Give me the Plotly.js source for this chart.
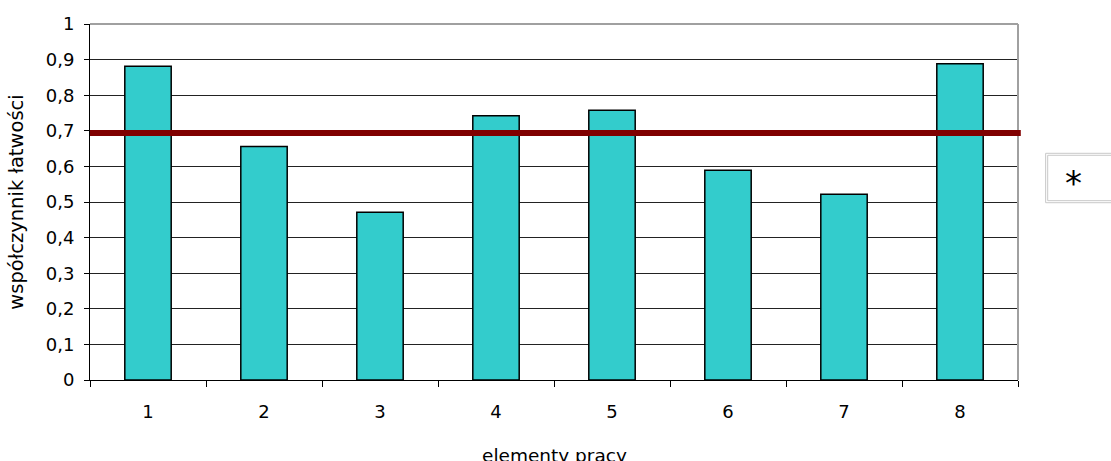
<!DOCTYPE html>
<html>
<head>
<meta charset="utf-8">
<script src="https://cdn.plot.ly/plotly-3.0.1.min.js"></script>
<style>html,body{margin:0;padding:0;background:#fff;}#chart{width:1111px;height:461px;}</style>
</head>
<body>
<div id="chart"></div>
<script>
const categories = ['1','2','3','4','5','6','7','8'];
const values = [0.881, 0.656, 0.471, 0.742, 0.758, 0.589, 0.522, 0.888];
const threshold = 0.694;
const yTickVals = [0, 0.1, 0.2, 0.3, 0.4, 0.5, 0.6, 0.7, 0.8, 0.9, 1];
const yTickText = ['0', '0,1', '0,2', '0,3', '0,4', '0,5', '0,6', '0,7', '0,8', '0,9', '1'];
const xTitle = 'elementy pracy';
const yTitle = 'współczynnik łatwości';
const legendText = '*';

const FONT = 'DejaVu Sans, Liberation Sans, Arial, sans-serif';

const traces = [{
  type: 'bar',
  x: categories,
  y: values,
  marker: {color: '#33CCCC', line: {color: '#000000', width: 1.5}},
  hoverinfo: 'skip',
  showlegend: false
}];

const layout = {
  width: 1111, height: 461,
  margin: {l: 90, r: 93, t: 24, b: 81},
  paper_bgcolor: '#ffffff', plot_bgcolor: '#ffffff',
  font: {family: FONT, color: '#000000', size: 18},
  bargap: 0.6,
  showlegend: false,
  xaxis: {
    type: 'category',
    tickson: 'boundaries',
    ticks: 'outside', ticklen: 6, tickcolor: '#000', tickwidth: 1,
    showline: true, linecolor: '#000', linewidth: 1,
    showgrid: false, zeroline: false,
    tickfont: {family: FONT, size: 18},
    ticklabelstandoff: 15,
    automargin: false
  },
  yaxis: {
    range: [0, 1],
    tickvals: yTickVals, ticktext: yTickText,
    ticks: 'outside', ticklen: 5, tickcolor: '#000', tickwidth: 1,
    showline: true, linecolor: '#000', linewidth: 1,
    showgrid: true, gridcolor: '#222222', gridwidth: 1,
    zeroline: false,
    tickfont: {family: FONT, size: 18},
    ticklabelstandoff: 6,
    title: {text: yTitle, font: {family: FONT, size: 19.5}, standoff: 16},
    automargin: false
  },
  shapes: [
    {type: 'line', xref: 'paper', yref: 'paper', x0: 0, x1: 1, y0: 1, y1: 1, line: {color: '#a0a0a0', width: 2}},
    {type: 'line', xref: 'paper', yref: 'paper', x0: 1, x1: 1, y0: 0, y1: 1, line: {color: '#a0a0a0', width: 2}},
    {type: 'line', xref: 'paper', yref: 'y', x0: 0, x1: 1.003, y0: threshold, y1: threshold, line: {color: '#800000', width: 6}},
    {type: 'rect', xref: 'paper', yref: 'paper', x0: 1.0298, x1: 1.11, y0: 0.498, y1: 0.6368, line: {color: '#c8c8c8', width: 1}},
    {type: 'rect', xref: 'paper', yref: 'paper', x0: 1.032, x1: 1.11, y0: 0.5037, y1: 0.6312, line: {color: '#c8c8c8', width: 1}}
  ],
  annotations: [
    {xref: 'paper', yref: 'paper', x: 1.0603, y: 0.552, text: legendText, showarrow: false,
     font: {family: FONT, size: 34, color: '#000'}, xanchor: 'center', yanchor: 'middle'},
    {xref: 'paper', yref: 'paper', x: 0.5, y: -0.176, text: xTitle, showarrow: false,
     font: {family: FONT, size: 18.5, color: '#000'}, xanchor: 'center', yanchor: 'top'}
  ]
};

Plotly.newPlot('chart', traces, layout, {displayModeBar: false, staticPlot: true});
</script>
</body>
</html>
